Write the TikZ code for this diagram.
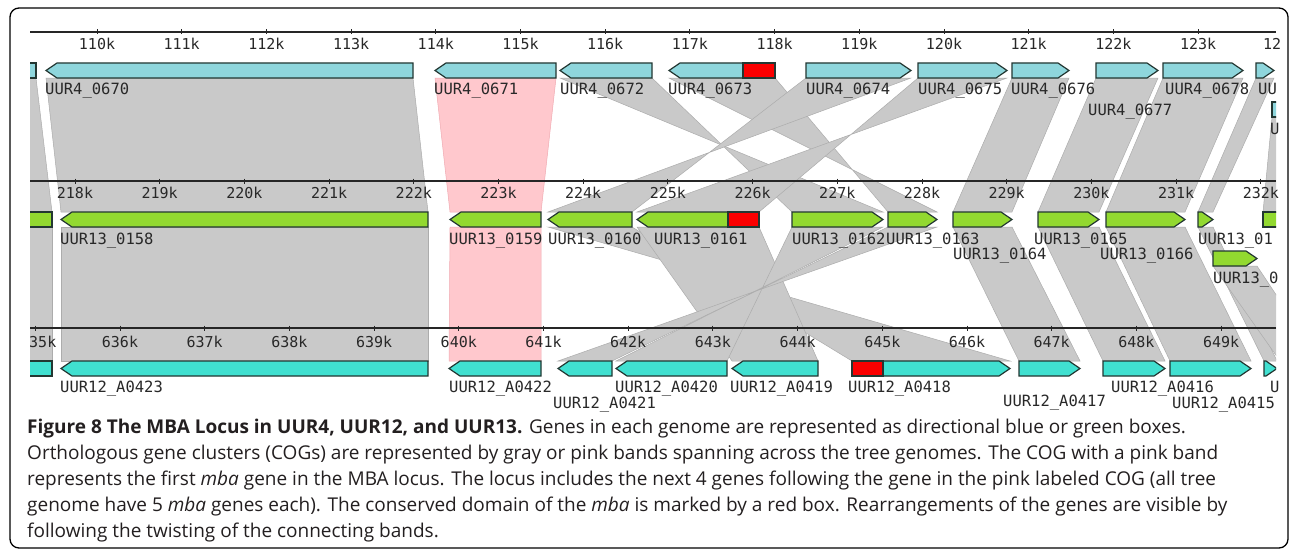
\documentclass[tikz,border=0pt]{standalone}
\usepackage{fontspec}
\setmainfont{Open Sans}
\newfontfamily\lblfont{DejaVu Sans Mono}
\definecolor{gA}{RGB}{142,214,220}
\definecolor{gB}{RGB}{146,217,48}
\definecolor{gC}{RGB}{64,224,208}
\definecolor{bandg}{RGB}{201,201,201}
\definecolor{bande}{RGB}{172,172,172}
\definecolor{bandp}{RGB}{255,200,205}
\definecolor{bandpe}{RGB}{240,170,178}
\definecolor{outl}{RGB}{35,55,50}
\definecolor{lblc}{RGB}{40,40,40}
\definecolor{capc}{RGB}{35,31,32}
\definecolor{redbox}{RGB}{250,0,0}
\tikzset{
  gene/.style={draw=outl, line width=1.2pt, line join=miter},
  bandst/.style={fill=bandg, draw=bande, line width=0.5pt},
  pinkst/.style={fill=bandp, draw=bandpe},
  axisline/.style={draw=black!85, line width=1.3pt},
  tickmark/.style={draw=black!85, line width=1pt},
  ticklbl/.style={font=\lblfont\fontsize{15}{15}\selectfont, text=lblc, inner sep=0pt, anchor=base},
  lbl/.style={font=\lblfont\fontsize{15.5}{15.5}\selectfont, text=lblc, inner sep=0pt, anchor=base west},
  captxt/.style={font=\fontsize{19}{24}\selectfont, text=capc, inner sep=0pt, anchor=base west}
}
% left-pointing gene: tip, right end, top, fill
\newcommand\mygL[4]{\filldraw[gene, fill=#4] (#1,#3+7.5) -- (#1+11,#3) -- (#2,#3) -- (#2,#3+15) -- (#1+11,#3+15) -- cycle;}
% right-pointing gene: left end, tip, top, fill
\newcommand\mygR[4]{\filldraw[gene, fill=#4] (#1,#3) -- (#2-11,#3) -- (#2,#3+7.5) -- (#2-11,#3+15) -- (#1,#3+15) -- cycle;}
% straight band: a b (top) c d (bottom) ytop ybot
\newcommand\bandS[7][]{\filldraw[bandst,#1] (#2,#6) -- (#3,#6) -- (#5,#7) -- (#4,#7) -- cycle;}
% twisted band
\newcommand\bandT[7][]{\filldraw[bandst,#1] (#2,#6) -- (#3,#6) -- (#4,#7) -- (#5,#7) -- cycle;}
\begin{document}
\begin{tikzpicture}[x=1pt,y=-1pt]
\useasboundingbox (0,0) rectangle (1290,551);
\fill[white] (0,0) rectangle (1290,551);
\begin{scope}
\clip (30,14) rectangle (1276,416);
% ---------- bands row 1 -> row 2 ----------
\bandS{20}{36}{20}{52}{78}{212}
\bandS{46}{413}{61}{428}{78}{212}
\bandS[pinkst]{435}{556}{450}{541}{78}{212}
\bandT{560}{652}{792}{883}{78}{212}
\bandT{669}{775}{888}{937}{78}{212}
\bandT{806}{911}{548}{632}{78}{212}
\bandT{918}{1007}{637}{759}{78}{212}
\bandS{1012}{1069}{953}{1012}{78}{212}
\bandS{1096}{1158}{1038}{1099}{78}{212}
\bandS{1163}{1243}{1106}{1185}{78}{212}
\bandS{1256}{1274}{1198}{1213}{78}{212}
\bandS{1272}{1300}{1263}{1300}{117}{212}
% ---------- bands row 2 -> row 3 ----------
\bandS{20}{52}{20}{52}{227}{361}
\bandS{61}{428}{61}{428}{227}{361}
\bandS[pinkst]{450}{541}{449}{541}{227}{361}
\bandT{548}{632}{852}{1010}{227}{361}
\bandS{637}{759}{732}{818}{227}{361}
\bandT{792}{883}{616}{727}{227}{361}
\bandT{888}{937}{558}{612}{227}{361}
\bandS{953}{1012}{1019}{1080}{227}{361}
\bandS{1038}{1099}{1103}{1165}{227}{361}
\bandS{1106}{1185}{1170}{1251}{227}{361}
\bandS{1198}{1213}{1264}{1277}{227}{361}
\bandS{1213}{1257}{1280}{1320}{266}{361}
% ---------- axes ----------
\draw[axisline] (30,32) -- (1276,32);
\draw[axisline] (30,181) -- (1276,181);
\draw[axisline] (30,328) -- (1276,328);
\foreach \k in {110,...,124}{
  \draw[tickmark] ({97+84.7*(\k-110)},29.5) -- ++(0,5);}
\foreach \k in {218,...,232}{
  \draw[tickmark] ({75+84.7*(\k-218)},178.5) -- ++(0,5);}
\foreach \k in {635,...,649}{
  \draw[tickmark] ({120+84.7*(\k-636)},325.5) -- ++(0,5);}
% ---------- genes row 1 (UUR4) ----------
\filldraw[gene, fill=gA] (18,63) rectangle (36,78);
\mygL{46}{413}{63}{gA}
\mygL{435}{556}{63}{gA}
\mygL{560}{652}{63}{gA}
\mygL{669}{775}{63}{gA}
\filldraw[gene, fill=redbox] (743,63) rectangle (775,78);
\mygR{806}{911}{63}{gA}
\mygR{918}{1007}{63}{gA}
\mygR{1012}{1069}{63}{gA}
\mygR{1096}{1158}{63}{gA}
\mygR{1163}{1243}{63}{gA}
\mygR{1256}{1274}{63}{gA}
\filldraw[gene, fill=gA] (1272,102) rectangle (1296,117);
% ---------- genes row 2 (UUR13) ----------
\filldraw[gene, fill=gB] (18,212) rectangle (52,227);
\mygL{61}{428}{212}{gB}
\mygL{450}{541}{212}{gB}
\mygL{548}{632}{212}{gB}
\mygL{637}{759}{212}{gB}
\filldraw[gene, fill=redbox] (728,212) rectangle (759,227);
\mygR{792}{883}{212}{gB}
\mygR{888}{937}{212}{gB}
\mygR{953}{1012}{212}{gB}
\mygR{1038}{1099}{212}{gB}
\mygR{1106}{1185}{212}{gB}
\mygR{1198}{1213}{212}{gB}
\filldraw[gene, fill=gB] (1263,212) rectangle (1296,227);
\mygR{1213}{1257}{251}{gB}
% ---------- genes row 3 (UUR12) ----------
\filldraw[gene, fill=gC] (18,361) rectangle (52,376);
\mygL{61}{428}{361}{gC}
\mygL{449}{541}{361}{gC}
\mygL{558}{612}{361}{gC}
\mygL{616}{727}{361}{gC}
\mygL{732}{818}{361}{gC}
\mygR{852}{1010}{361}{gC}
\filldraw[gene, fill=redbox] (852,361) rectangle (883,376);
\mygR{1019}{1080}{361}{gC}
\mygR{1103}{1165}{361}{gC}
\mygR{1170}{1251}{361}{gC}
\mygR{1264}{1277}{361}{gC}
\end{scope}
% ---------- tick labels ----------
\foreach \k in {110,...,123}{
  \node[ticklbl] at ({97+84.7*(\k-110)},50) {\k k};}
\node[ticklbl, anchor=base west] (t124) at (1263,50) {12};
\foreach \k in {218,...,232}{
  \node[ticklbl] at ({75+84.7*(\k-218)},198) {\k k};}
\node[ticklbl, anchor=base west] (t635) at (29,347) {35k};
\foreach \k in {636,...,649}{
  \node[ticklbl] at ({120+84.7*(\k-636)},347) {\k k};}
% ---------- gene labels ----------
\node[lbl] (l0670) at (45,95) {UUR4\_0670};
\node[lbl] (l0671) at (434,95) {UUR4\_0671};
\node[lbl] (l0672) at (560,95) {UUR4\_0672};
\node[lbl] (l0673) at (668,95) {UUR4\_0673};
\node[lbl] (l0674) at (806,95) {UUR4\_0674};
\node[lbl] (l0675) at (918,95) {UUR4\_0675};
\node[lbl] (l0676) at (1011,95) {UUR4\_0676};
\node[lbl] (l0677) at (1088,115) {UUR4\_0677};
\node[lbl] (l0678) at (1165,95) {UUR4\_0678};
\node[lbl] (l0679) at (1258,95) {UU};
\node[lbl] (l0680) at (1270,134) {U};
\node[lbl] (l0158) at (60,244) {UUR13\_0158};
\node[lbl] (l0159) at (449,244) {UUR13\_0159};
\node[lbl] (l0160) at (548,244) {UUR13\_0160};
\node[lbl] (l0161) at (654,244) {UUR13\_0161};
\node[lbl] (l0162) at (792,244) {UUR13\_0162};
\node[lbl] (l0163) at (886,244) {UUR13\_0163};
\node[lbl] (l0164) at (953,259) {UUR13\_0164};
\node[lbl] (l0165) at (1034,244) {UUR13\_0165};
\node[lbl] (l0166) at (1100,259) {UUR13\_0166};
\node[lbl] (l0167) at (1198,244) {UUR13\_01};
\node[lbl] (l0168) at (1213,283) {UUR13\_0};
\node[lbl] (lA0423) at (60,392) {UUR12\_A0423};
\node[lbl] (lA0422) at (449,392) {UUR12\_A0422};
\node[lbl] (lA0421) at (553,408) {UUR12\_A0421};
\node[lbl] (lA0420) at (615,392) {UUR12\_A0420};
\node[lbl] (lA0419) at (730,392) {UUR12\_A0419};
\node[lbl] (lA0418) at (848,392) {UUR12\_A0418};
\node[lbl] (lA0417) at (1003,406) {UUR12\_A0417};
\node[lbl] (lA0416) at (1111,392) {UUR12\_A0416};
\node[lbl] (lA0415) at (1172,408) {UUR12\_A0415};
\node[lbl] (lA0414) at (1270,392) {U};
% ---------- frame ----------
\draw[line width=1.3pt, rounded corners=9pt] (10,8) rectangle (1288,548);
% ---------- caption ----------
\node[captxt] (c1) at (27,433) {\textbf{Figure 8 The MBA Locus in UUR4, UUR12, and UUR13.} Genes in each genome are represented as directional blue or green boxes.};
\node[captxt] (c2) at (27,459) {Orthologous gene clusters (COGs) are represented by gray or pink bands spanning across the tree genomes. The COG with a pink band};
\node[captxt] (c3) at (27,485) {represents the first \textit{mba} gene in the MBA locus. The locus includes the next 4 genes following the gene in the pink labeled COG (all tree};
\node[captxt] (c4) at (27,511) {genome have 5 \textit{mba} genes each). The conserved domain of the \textit{mba} is marked by a red box. Rearrangements of the genes are visible by};
\node[captxt] (c5) at (27,537) {following the twisting of the connecting bands.};
\end{tikzpicture}
\end{document}
